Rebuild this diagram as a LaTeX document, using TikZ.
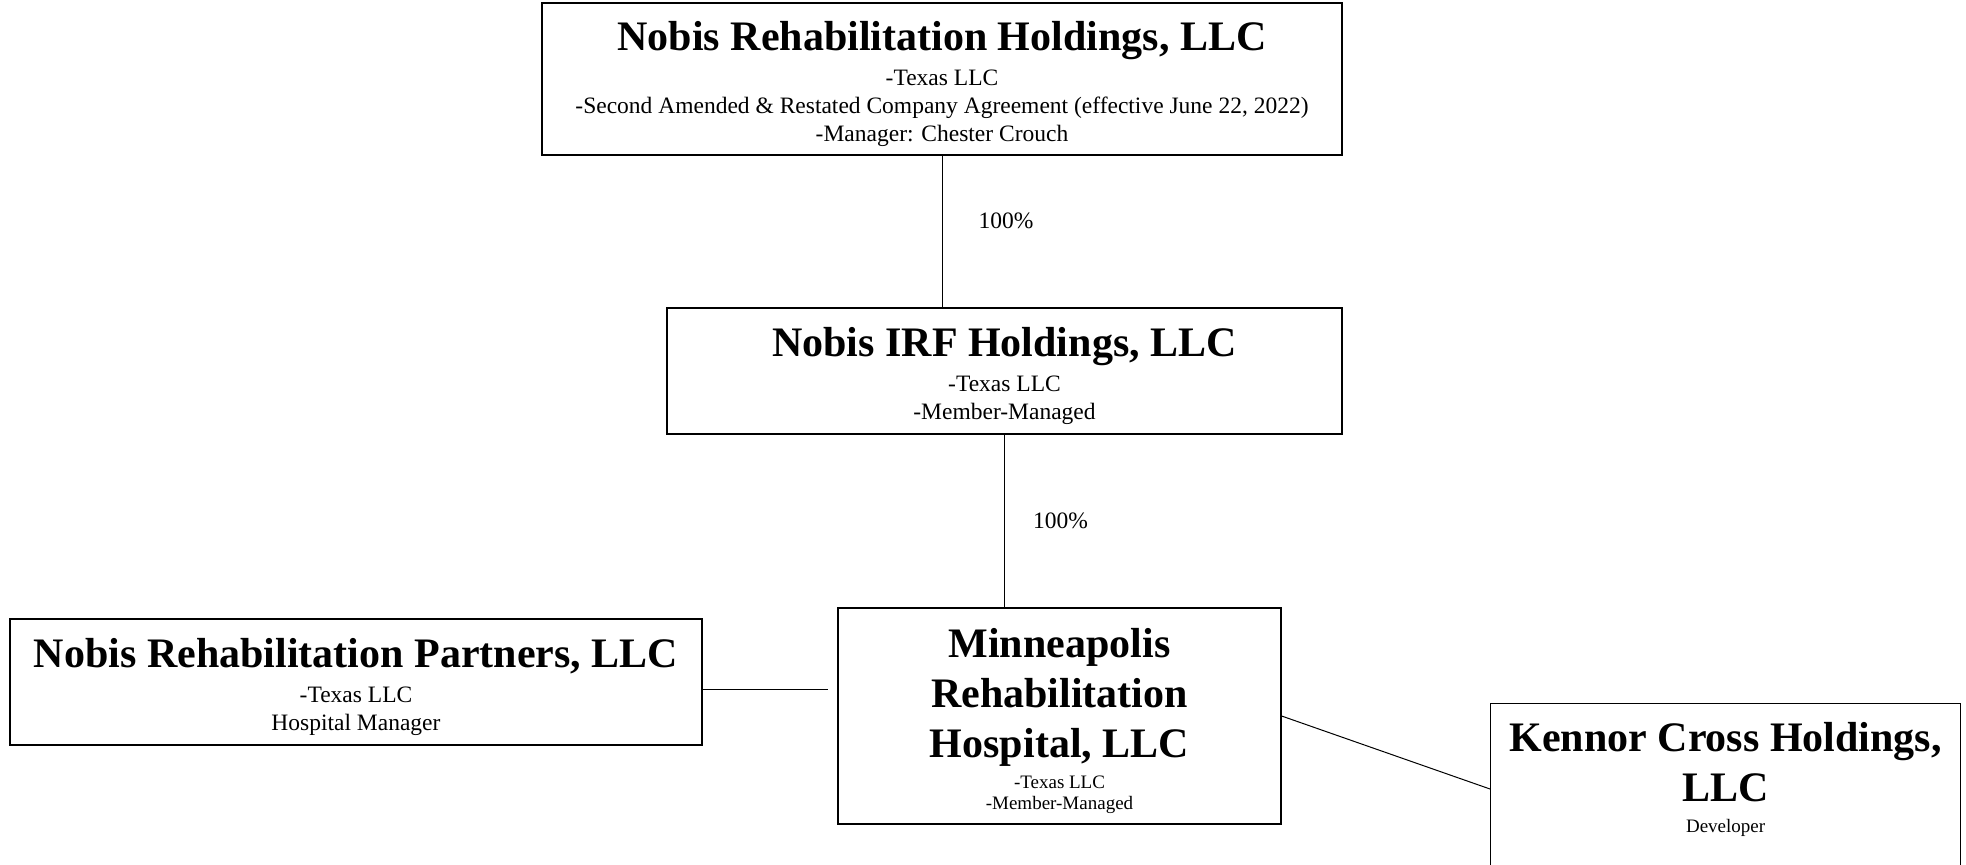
\documentclass[tikz,border=0pt]{standalone}
\usepackage{fontspec}
\setmainfont{Liberation Serif}
\usepackage{tikz}

\newcommand{\ename}[1]{{\fontsize{21}{24}\selectfont\bfseries\rule[-4.6pt]{0pt}{24pt}#1}}

\begin{document}
\begin{tikzpicture}[
  x=0.5pt, y=-0.5pt,
  ent/.style={draw, line width=0.6pt, align=center, inner sep=3pt, font=\fontsize{11.75}{14}\selectfont},
  small/.style={font=\fontsize{9.5}{10.7}\selectfont},
  link/.style={line width=0.5pt},
  pct/.style={font=\fontsize{11.75}{14}\selectfont, inner sep=0pt}
]
\useasboundingbox (0,0) rectangle (1966,865);

\node[ent, minimum width=400pt, minimum height=76pt] (nrh) at (942,79)
  {\ename{Nobis Rehabilitation Holdings, LLC}\\[3.4pt]-Texas LLC\\-Second Amended \& Restated Company Agreement (effective June 22, 2022)\\-Manager: Chester Crouch};
\node[ent, minimum width=337.5pt, minimum height=63pt] (irf) at (1004.5,371)
  {\ename{Nobis IRF Holdings, LLC}\\[3.4pt]-Texas LLC\\-Member-Managed};
\node[ent, small, minimum width=221.5pt, minimum height=108pt] (mrh) at (1059.5,716)
  {\ename{Minneapolis}\\\ename{Rehabilitation}\\\ename{Hospital, LLC}\\[3.5pt]-Texas LLC\\-Member-Managed};
\node[ent, minimum width=346pt, minimum height=63pt] (nrp) at (356,682)
  {\ename{Nobis Rehabilitation Partners, LLC}\\[3.4pt]-Texas LLC\\Hospital Manager};
\node[ent, small, anchor=north west, minimum width=235pt, text depth=85pt, inner ysep=4.5pt] (kch) at (1490,703)
  {\ename{Kennor Cross Holdings,}\\\ename{LLC}\\[3.5pt]Developer};

\draw[link] (nrh.south) -- node[pct, right=18pt, pos=0.43] {100\%} (nrh.south |- irf.north);
\draw[link] (irf.south) -- node[pct, right=14pt] {100\%} (irf.south |- mrh.north);
\draw[link, shorten >=4.5pt] ([yshift=-4pt]nrp.east) -- ([yshift=-4pt]nrp.east -| mrh.west);
\draw[link] (mrh.east) -- ([yshift=-43pt]kch.north west);
\end{tikzpicture}
\end{document}
